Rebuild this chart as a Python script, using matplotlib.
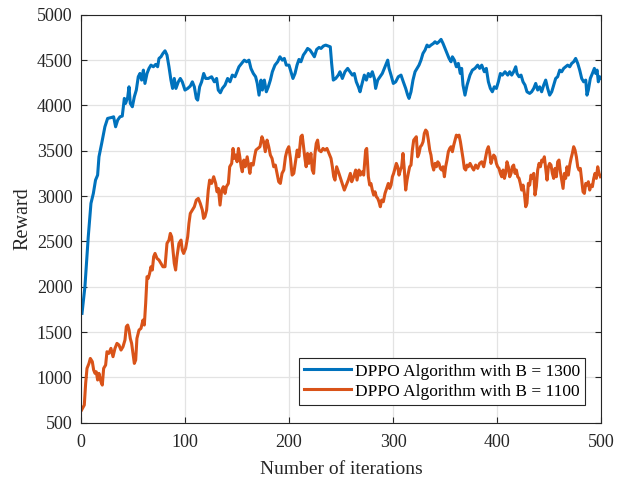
import matplotlib
matplotlib.use("Agg")
import matplotlib.pyplot as plt

# ---- data ----
blue_x = [1, 3.8, 7, 9.6, 11.9, 14, 16, 17.3, 19.9, 23, 25.6, 29.5, 31.4, 33.3, 35.3, 37.5, 39.7,
          41.7, 42.9, 44.9, 46.2, 47.4, 49.4, 51.3, 53.2, 55.1, 56.7, 58.3, 60, 61.5, 63.5, 65.4,
          67.3, 69.6, 71.8, 73.7, 75, 76.9, 78.8, 80.8, 82.7, 84.6, 86.5, 88.1, 89.7, 91.3, 93.6,
          95.5, 97.4, 100, 102.6, 105.1, 107.1, 109, 110.9, 112.2, 114.1, 116, 118, 119.9, 122.4,
          125.6, 128.2, 130.4, 132, 134, 135.9, 138.5, 141, 143.3, 145.5, 148.1, 150, 151.9, 154.5,
          157, 159.3, 161.5, 163.4, 165.7, 167.9, 169.5, 171.2, 173.1, 174.4, 176.3, 178.2, 180.1,
          182.1, 184, 186.5, 189.1, 191.3, 193.6, 195.5, 197.4, 200, 201.9, 203.8, 205.8, 207.7,
          209.6, 211.5, 213.8, 216, 217.9, 220.2, 222.4, 224.4, 226.6, 228.9, 230.8, 233, 235.3,
          237.8, 239.7, 241, 242.6, 244.9, 247.4, 249, 251.3, 253.8, 256.4, 258.6, 260.9, 262.8,
          264.7, 266.7, 268.3, 269.9, 272.4, 274.4, 276.3, 278.2, 280.1, 282.1, 283.3, 285.3, 287.5,
          289.7, 291.7, 293.6, 294.9, 296.2, 298.1, 300.3, 302.6, 305.1, 307.7, 309.9, 312.2, 314.1,
          315.4, 317.3, 319.2, 321.2, 323.1, 325, 326.9, 328.8, 330.8, 332.7, 334.6, 336.5, 338.8,
          340.4, 342.3, 344.2, 346.2, 348.1, 350, 352, 353.9, 355.8, 357.1, 359, 360.9, 362.8, 364.7,
          366, 367.3, 369.2, 371.2, 374, 376.3, 378.8, 381.4, 383.3, 385.3, 387.8, 389.7, 391.7,
          393.6, 395.5, 397.4, 399.4, 401.3, 403.2, 405.1, 407.7, 410.3, 412.2, 414.1, 416, 418,
          419.2, 421.2, 423.1, 425, 426.9, 428.8, 431.4, 433.3, 435.3, 437.2, 439.1, 441, 442.9,
          444.9, 446.8, 448.7, 450.6, 452.6, 454.5, 456.4, 458.3, 460.3, 462.2, 464.1, 466, 467.9,
          469.9, 471.8, 473.7, 475.6, 477.6, 479.5, 481.4, 483.3, 485.3, 486.5, 487.8, 489.7, 491.7,
          493.6, 494.9, 496.2, 497.4, 498.7, 500]
blue_y = [1706, 2000, 2551, 2919, 3029, 3176, 3231, 3433, 3580, 3764, 3856, 3867, 3874, 3764, 3838,
          3874, 3882, 4077, 4022, 4088, 4205, 4022, 3985, 4095, 4169, 4316, 4352, 4279, 4389, 4242,
          4352, 4408, 4444, 4426, 4452, 4426, 4518, 4536, 4573, 4602, 4555, 4426, 4279, 4187, 4297,
          4187, 4260, 4297, 4260, 4169, 4187, 4213, 4260, 4205, 4077, 4058, 4205, 4260, 4352, 4297,
          4297, 4316, 4260, 4297, 4169, 4139, 4187, 4224, 4297, 4260, 4334, 4316, 4371, 4426, 4463,
          4499, 4481, 4499, 4408, 4352, 4316, 4242, 4113, 4279, 4169, 4279, 4150, 4205, 4279, 4371,
          4444, 4481, 4536, 4499, 4518, 4444, 4444, 4371, 4297, 4352, 4444, 4507, 4481, 4555, 4591,
          4628, 4610, 4573, 4536, 4617, 4639, 4628, 4654, 4665, 4654, 4646, 4463, 4279, 4297, 4334,
          4371, 4297, 4371, 4408, 4371, 4334, 4352, 4260, 4205, 4150, 4224, 4334, 4279, 4352, 4316,
          4371, 4297, 4187, 4279, 4316, 4352, 4408, 4463, 4499, 4408, 4334, 4242, 4260, 4316, 4334,
          4260, 4187, 4113, 4077, 4150, 4279, 4371, 4408, 4444, 4499, 4573, 4610, 4665, 4646, 4665,
          4683, 4702, 4683, 4702, 4728, 4683, 4628, 4573, 4518, 4481, 4536, 4499, 4426, 4463, 4352,
          4408, 4224, 4113, 4224, 4334, 4389, 4408, 4444, 4408, 4444, 4371, 4408, 4260, 4187, 4150,
          4205, 4187, 4260, 4352, 4334, 4371, 4334, 4371, 4334, 4371, 4426, 4352, 4316, 4334, 4260,
          4224, 4150, 4132, 4150, 4187, 4242, 4169, 4205, 4150, 4224, 4279, 4187, 4113, 4150, 4224,
          4297, 4316, 4389, 4371, 4408, 4426, 4444, 4426, 4463, 4481, 4518, 4463, 4389, 4297, 4260,
          4279, 4113, 4169, 4297, 4352, 4408, 4352, 4389, 4260, 4316, 4300]

orange_x = [0.6, 3.2, 4.5, 5.8, 7.7, 9, 10.9, 12.2, 13.5, 14.7, 16, 17.3, 19.2, 20.5, 21.8, 23.7, 25,
            26.9, 28.8, 30.8, 32.7, 34.6, 36.5, 38.5, 40.4, 42.3, 43.6, 44.9, 46.2, 47.4, 48.7, 50,
            51.3, 52.6, 53.8, 55.8, 57.7, 59.6, 60.9, 62.2, 63.5, 64.7, 66, 67.3, 68.6, 69.9, 71.2,
            73.1, 75, 76.9, 78.8, 80.8, 82.7, 84.6, 85.9, 87.2, 88.5, 89.7, 91, 92.3, 94.2, 96.2,
            97.4, 98.7, 100.6, 102.6, 103.8, 105.1, 107.1, 109, 110.9, 112.8, 114.7, 116.7, 117.9,
            119.2, 120.8, 122.4, 123.7, 125.6, 127.6, 129.5, 130.8, 132.1, 133.7, 135.3, 136.9,
            138.5, 139.8, 141.7, 143, 144.9, 146.2, 147.5, 148.8, 150.1, 151.4, 152.7, 154, 155.1,
            156.6, 157.9, 159.8, 161.1, 162.4, 163.7, 165.6, 166.9, 168.2, 170.1, 172.1, 174, 175.6,
            177.2, 178.9, 180.5, 182.1, 183.7, 185.3, 186.9, 188.5, 190.1, 191.7, 193.3, 195, 196.6,
            198.2, 199.8, 201.4, 203, 204.6, 206.2, 207.9, 209.5, 211.4, 212.7, 214, 215.3, 216.5,
            217.8, 219.1, 221.1, 222.4, 223.7, 225, 226.2, 227.5, 228.8, 230.8, 232.7, 234.6, 236.5,
            238.5, 240.4, 241.7, 243, 244.2, 245.8, 248, 250.6, 253.2, 255.1, 257, 259, 260.3, 262.2,
            264.1, 265.4, 267.3, 268.6, 270.5, 271.8, 273.7, 274.7, 276.3, 277.6, 278.8, 280.1,
            281.4, 282.7, 284, 285.3, 286.5, 287.8, 289.1, 290.7, 292.3, 293.9, 295.5, 296.8, 298.1,
            299.4, 300.6, 301.9, 303.2, 304.5, 305.8, 307.1, 308.3, 309.6, 310.9, 312.2, 313.5,
            314.7, 316, 317.3, 318.6, 319.9, 321.2, 322.4, 323.7, 325, 326.3, 327.6, 328.9, 330.1,
            331.4, 332.7, 334, 335.3, 336.5, 337.8, 339.1, 340.4, 341.7, 343, 344.2, 345.5, 346.8,
            348.1, 349.4, 350.6, 351.9, 353.2, 354.5, 355.8, 357.1, 358.4, 359.6, 360.9, 362.2,
            363.5, 364.8, 366.1, 367.3, 368.6, 369.9, 371.2, 372.4, 374.1, 375.7, 377.6, 379.5,
            381.4, 383.3, 385.3, 387.2, 389.1, 390.4, 391.7, 393, 394.2, 395.5, 396.8, 398.1, 399.4,
            400.6, 401.9, 403.2, 404.5, 405.8, 407.1, 408.3, 409.6, 410.9, 412.2, 413.5, 414.7, 416,
            417.3, 418.6, 419.9, 421.2, 422.4, 423.7, 425, 426.3, 427.6, 428.8, 430.1, 431.4, 432.7,
            434, 435.3, 436.5, 437.8, 439.1, 440.4, 441.7, 443, 444.2, 445.5, 446.8, 448.1, 449.4,
            450.6, 451.9, 453.2, 454.5, 455.8, 457.1, 458.3, 459.6, 460.9, 462.2, 463.5, 464.8, 466,
            467.3, 468.6, 469.9, 471.2, 472.4, 473.7, 475, 476.3, 477.6, 478.8, 480.1, 481.4, 482.7,
            484, 485.3, 486.5, 487.8, 489.1, 490.4, 491.7, 493, 494.2, 495.5, 496.8, 498.1, 499.4]
orange_y = [640, 695, 934, 1099, 1154, 1209, 1173, 1081, 1044, 1062, 971, 1044, 952, 915, 1099, 1136,
            1283, 1265, 1320, 1228, 1320, 1375, 1357, 1301, 1338, 1412, 1559, 1577, 1522, 1430, 1375,
            1265, 1154, 1191, 1430, 1522, 1540, 1632, 1577, 1816, 2110, 2092, 2147, 2220, 2184, 2331,
            2367, 2312, 2294, 2257, 2220, 2220, 2478, 2514, 2588, 2551, 2404, 2257, 2184, 2331, 2478,
            2514, 2404, 2367, 2422, 2551, 2698, 2808, 2845, 2882, 2956, 2974, 2919, 2845, 2753, 2772,
            2845, 3066, 3176, 3139, 3213, 3139, 3047, 3084, 2900, 3066, 3103, 3029, 3103, 3139, 3323,
            3360, 3525, 3415, 3452, 3378, 3525, 3433, 3323, 3268, 3397, 3323, 3433, 3342, 3250, 3360,
            3342, 3433, 3507, 3525, 3544, 3654, 3599, 3489, 3617, 3544, 3452, 3415, 3323, 3342, 3250,
            3158, 3139, 3250, 3287, 3433, 3507, 3544, 3415, 3231, 3250, 3378, 3507, 3433, 3654, 3672,
            3544, 3415, 3323, 3470, 3360, 3470, 3287, 3250, 3470, 3580, 3617, 3507, 3489, 3525, 3507,
            3525, 3470, 3415, 3323, 3213, 3176, 3323, 3250, 3158, 3066, 3121, 3176, 3250, 3158, 3213,
            3287, 3176, 3287, 3231, 3268, 3231, 3507, 3525, 3213, 3121, 3139, 3066, 3011, 3047, 2992,
            2974, 2937, 2882, 2956, 2937, 3029, 3084, 3139, 3084, 3121, 3213, 3250, 3305, 3360, 3323,
            3231, 3287, 3323, 3470, 3287, 3066, 3176, 3250, 3323, 3342, 3507, 3617, 3636, 3654, 3433,
            3470, 3544, 3562, 3599, 3691, 3728, 3709, 3617, 3507, 3452, 3342, 3287, 3360, 3323, 3378,
            3360, 3305, 3287, 3323, 3213, 3323, 3397, 3489, 3525, 3544, 3489, 3562, 3617, 3672, 3654,
            3672, 3599, 3507, 3415, 3305, 3287, 3342, 3323, 3360, 3323, 3287, 3342, 3305, 3360, 3378,
            3323, 3433, 3507, 3544, 3470, 3360, 3415, 3452, 3433, 3360, 3323, 3305, 3250, 3213, 3287,
            3195, 3250, 3378, 3323, 3213, 3250, 3323, 3342, 3250, 3287, 3213, 3195, 3139, 3066, 3121,
            3029, 2882, 2919, 3139, 3121, 3231, 3195, 3250, 3011, 3103, 3287, 3360, 3323, 3397, 3378,
            3433, 3305, 3176, 3323, 3360, 3342, 3250, 3195, 3305, 3213, 3378, 3397, 3268, 3176, 3084,
            3250, 3195, 3323, 3231, 3342, 3415, 3470, 3544, 3507, 3433, 3323, 3287, 3305, 3176, 3047,
            3029, 3139, 3121, 3158, 3066, 3121, 3103, 3195, 3250, 3195, 3323, 3250, 3213]

series_labels = ["DPPO Algorithm with B = 1300", "DPPO Algorithm with B = 1100"]
x_label = "Number of iterations"
y_label = "Reward"
x_ticks = [0, 100, 200, 300, 400, 500]
y_ticks = [500, 1000, 1500, 2000, 2500, 3000, 3500, 4000, 4500, 5000]

plt.rcParams['font.family'] = ['Liberation Serif', 'DejaVu Serif']
plt.rcParams['mathtext.fontset'] = 'stix'

fig = plt.figure(figsize=(6.2, 4.78), dpi=100)
ax = fig.add_axes([0.1306, 0.1157, 0.8388, 0.8535])

ax.plot(blue_x, blue_y, color='#0072BD', lw=2.2, label=series_labels[0])
ax.plot(orange_x, orange_y, color='#D95319', lw=2.2, label=series_labels[1])

ax.set_xlim(0, 500)
ax.set_ylim(500, 5000)
ax.set_xticks(x_ticks)
ax.set_yticks(y_ticks)
ax.grid(True, color='#e3e3e3', lw=0.9)
ax.set_axisbelow(True)
ax.tick_params(direction='in', top=True, right=True, length=4, width=0.8,
               labelsize=13, colors='#262626')
ax.tick_params(axis='x', pad=8)
ax.tick_params(axis='y', pad=6)
for s in ax.spines.values():
    s.set_color('#262626')
    s.set_linewidth(0.8)
ax.set_xlabel(x_label, fontsize=14, color='#262626', labelpad=7)
ax.set_ylabel(y_label, fontsize=14.5, color='#262626', labelpad=3)

leg = ax.legend(loc='lower right', bbox_to_anchor=(0.97, 0.044), fontsize=12.5,
                frameon=True, fancybox=False, edgecolor='#262626', framealpha=1,
                handlelength=2.7, handletextpad=0.25, borderpad=0.3, labelspacing=0.22,
                borderaxespad=0)
leg.get_frame().set_linewidth(0.8)

fig.savefig('out.png', dpi=100)
